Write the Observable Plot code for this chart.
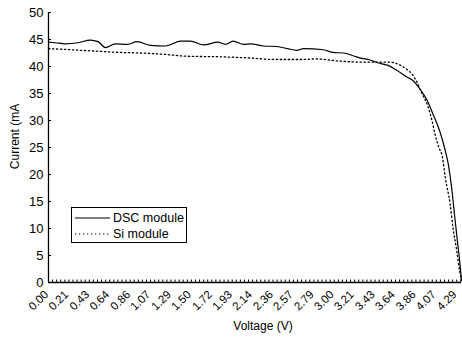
<!DOCTYPE html>
<html>
<head>
<meta charset="utf-8">
<script src="https://cdn.jsdelivr.net/npm/d3@7"></script>
<script src="https://cdn.jsdelivr.net/npm/@observablehq/plot@0.6"></script>
<style>
  html, body { margin: 0; padding: 0; background: #fff; }
  #wrap { position: relative; width: 462px; height: 343px; font-family: "Liberation Sans", Arial, sans-serif; }
  #legend { position: absolute; left: 71px; top: 207px; width: 116px; height: 36px; border: 1px solid #000; background: #fff; font-size: 12.5px; color: #000; box-sizing: border-box; }
  #legend .row { position: absolute; left: 3px; height: 14px; display: flex; align-items: center; }
  #legend svg { margin-right: 3px; }
</style>
</head>
<body>
<div id="wrap">
  <div id="chart"></div>
  <div id="legend"></div>
</div>
<script>
// Voltage (V) and current (mA)
const dscV = [0.00,0.07,0.18,0.31,0.44,0.52,0.60,0.70,0.83,0.93,1.07,1.23,1.39,1.49,1.63,1.78,1.86,1.94,2.05,2.12,2.26,2.40,2.51,2.61,2.68,2.89,2.99,3.10,3.20,3.27,3.38,3.48,3.57,3.66,3.77,3.83,3.90,3.98,4.04,4.11,4.17,4.20,4.24,4.27,4.30,4.32,4.34];
const dscI = [44.5,44.4,44.2,44.4,44.9,44.6,43.5,44.2,44.1,44.6,43.9,43.8,44.7,44.7,44.0,44.5,44.1,44.7,44.1,44.2,43.8,43.7,43.3,43.0,43.3,43.1,42.6,42.5,42.0,41.6,41.2,40.6,40.2,39.3,38.0,37.4,35.9,33.7,31.2,28.1,24.4,22.0,17.0,12.0,7.2,4.1,0.4];
const siV = [0.00,0.13,0.34,0.55,0.76,0.97,1.18,1.46,1.80,2.09,2.38,2.68,2.80,3.06,3.29,3.59,3.69,3.77,3.82,3.88,3.92,3.99,4.03,4.06,4.10,4.14,4.17,4.22,4.25,4.29,4.32,4.34];
const siI = [43.3,43.2,43.0,42.8,42.6,42.5,42.3,41.9,41.8,41.6,41.3,41.3,41.4,41.0,40.8,40.8,40.3,39.4,38.6,36.8,35.2,32.5,30.0,27.6,25.1,23.2,19.4,14.6,10.2,5.9,2.2,0.4];
const xTickLabels = ["0.00","0.21","0.43","0.64","0.86","1.07","1.29","1.50","1.72","1.93","2.14","2.36","2.57","2.79","3.00","3.21","3.43","3.64","3.86","4.07","4.29"];
const yTicks = [0,5,10,15,20,25,30,35,40,45,50];
const seriesNames = ["DSC module", "Si module"];

const dsc = dscV.map((v, i) => ({v, c: dscI[i]}));
const si = siV.map((v, i) => ({v, c: siI[i]}));
const labelTicks = xTickLabels.map(Number);
const catStep = labelTicks[labelTicks.length - 1] / 100;
const minorTicks = d3.range(0, 102).map(i => i * catStep);

const chart = Plot.plot({
  width: 462,
  height: 343,
  marginLeft: 48,
  marginRight: 1,
  marginTop: 12,
  marginBottom: 61,
  style: {fontFamily: "Liberation Sans, Arial, sans-serif", color: "#000", background: "#fff"},
  x: {domain: [0, 4.34], label: null},
  y: {domain: [0, 50], label: null},
  marks: [
    Plot.axisY({ticks: yTicks, tickSize: 0, tickPadding: 5, fontSize: 13, label: null}),
    Plot.axisY({ticks: yTicks, tickSize: -3, tickFormat: () => "", label: null}),
    Plot.axisX({ticks: minorTicks, tickSize: -2.5, tickFormat: () => "", label: null}),
    Plot.axisX({ticks: labelTicks, tickSize: 0, tickPadding: 10, dx: -2, tickRotate: -45, fontSize: 11.5, tickFormat: (d, i) => xTickLabels[i], label: null}),
    Plot.ruleX([0], {stroke: "#000", strokeWidth: 1.3}),
    Plot.ruleY([0], {stroke: "#000", strokeWidth: 1.3}),
    Plot.line(dsc, {x: "v", y: "c", stroke: "#000", strokeWidth: 1.2, curve: "monotone-x"}),
    Plot.line(si, {x: "v", y: "c", stroke: "#000", strokeWidth: 1.3, strokeDasharray: "1.3,2.7", curve: "monotone-x"}),
    Plot.text(["Voltage (V)"], {frameAnchor: "bottom", dx: 8, dy: 47, fontSize: 12, fill: "#000"}),
    Plot.text(["Current (mA"], {frameAnchor: "left", textAnchor: "middle", dx: -33, dy: -11, rotate: -90, fontSize: 12, fill: "#000"})
  ]
});
document.getElementById("chart").appendChild(chart);

const legend = document.getElementById("legend");
const dashes = [null, "1.3,2.7"];
seriesNames.forEach((name, i) => {
  const row = document.createElement("div");
  row.className = "row";
  row.style.top = (i === 0 ? 3 : 19) + "px";
  row.innerHTML = `<svg width="35" height="4"><line x1="0" x2="35" y1="2" y2="2" stroke="#000" stroke-width="1.2" ${dashes[i] ? `stroke-dasharray="${dashes[i]}"` : ""}/></svg><span>${name}</span>`;
  legend.appendChild(row);
});
</script>
</body>
</html>
